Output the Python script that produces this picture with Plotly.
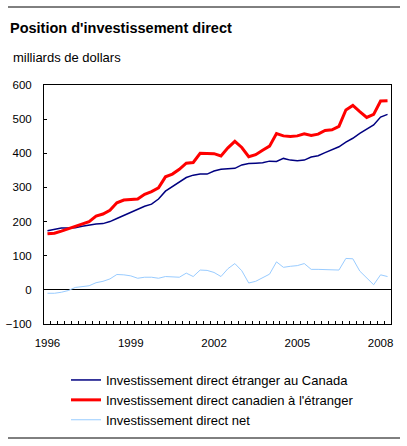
import plotly.graph_objects as go

# Quarterly data, 1996Q1 - 2008Q2 (billions of dollars)
quarters = [f"{y}T{q}" for y in range(1996, 2009) for q in range(1, 5)][:50]
tick_years = ["1996", "1999", "2002", "2005", "2008"]

fdi_in_canada = [173, 178, 181, 181, 182, 186, 190, 193, 194, 200,
                 209, 218, 227, 235, 245, 251, 266, 289, 302, 316,
                 329, 336, 339, 339, 348, 353, 354, 356, 366, 370,
                 371, 372, 377, 376, 385, 380, 378, 380, 389, 393,
                 402, 411, 419, 433, 444, 458, 470, 483, 506, 514]

cdi_abroad = [164, 166, 172, 179, 188, 194, 200, 216, 222, 233,
              255, 263, 265, 266, 280, 288, 299, 331, 339, 353,
              371, 373, 400, 400, 399, 392, 416, 435, 417, 390,
              396, 409, 421, 458, 451, 449, 451, 457, 452, 456,
              467, 469, 479, 527, 540, 522, 505, 514, 553, 554]

net_direct = [-10, -10, -7, -2, 7, 9, 12, 21, 25, 32,
              45, 44, 41, 34, 37, 37, 34, 39, 37, 37,
              49, 39, 58, 57, 51, 39, 62, 77, 56, 20,
              25, 36, 46, 82, 66, 69, 71, 77, 60, 60,
              60, 58, 58, 92, 91, 55, 35, 15, 44, 39]

names = ["Investissement direct étranger au Canada",
         "Investissement direct canadien à l'étranger",
         "Investissement direct net"]

FONT = "Liberation Sans, Arial, sans-serif"
x = list(range(len(quarters)))

fig = go.Figure()
fig.add_trace(go.Scatter(x=x, y=fdi_in_canada, mode="lines", name=names[0],
                         line=dict(color="#000080", width=1.5)))
fig.add_trace(go.Scatter(x=x, y=cdi_abroad, mode="lines", name=names[1],
                         line=dict(color="#FF0000", width=3)))
fig.add_trace(go.Scatter(x=x, y=net_direct, mode="lines", name=names[2],
                         line=dict(color="#99CCFF", width=1)))

fig.update_layout(
    width=407, height=446,
    margin=dict(l=44, r=16, t=85, b=122, autoexpand=False),
    paper_bgcolor="white", plot_bgcolor="white",
    font=dict(family=FONT, size=11, color="black"),
    showlegend=True,
    legend=dict(x=(66 - 44) / 347, xanchor="left",
                y=(324 - 365) / 239, yanchor="top",
                font=dict(size=13, family=FONT, color="black"),
                bgcolor="rgba(0,0,0,0)", borderwidth=0,
                tracegroupgap=0),
    title=dict(text="<b>Position d'investissement direct</b>",
               x=10 / 407, xanchor="left", xref="container",
               y=1 - 23 / 446, yanchor="top", yref="container",
               font=dict(size=14.5, family=FONT, color="black")),
)

fig.add_annotation(text="milliards de dollars", xref="paper", yref="paper",
                   x=(11 - 44) / 347, xanchor="left",
                   y=(324 - 48) / 239, yanchor="top",
                   showarrow=False, font=dict(size=13, family=FONT, color="black"))

fig.update_xaxes(
    range=[-0.5, len(quarters) - 0.5], automargin=False,
    tickmode="array", tickvals=[i for i in x if i % 12 == 0],
    ticktext=tick_years, ticks="",
    showline=True, linecolor="black", linewidth=1, mirror=True,
    showgrid=False, zeroline=False,
    ticklabelstandoff=8,
    tickfont=dict(size=11.5, family=FONT, color="black"),
    minor=dict(tickmode="array", tickvals=[i + 0.5 for i in x[:-1]],
               ticks="inside", ticklen=3, tickcolor="black", tickwidth=1,
               showgrid=False),
)
fig.update_yaxes(
    range=[-100, 600], tickmode="linear", tick0=-100, dtick=100,
    automargin=False,
    ticks="inside", ticklen=3, tickcolor="black",
    showline=True, linecolor="black", linewidth=1, mirror=True,
    showgrid=False, zeroline=True, zerolinecolor="black", zerolinewidth=1,
    ticklabelstandoff=9,
    tickfont=dict(size=11.5, family=FONT, color="black"),
)

# horizontal rules at top and bottom of the figure
fig.add_shape(type="line", xref="paper", yref="paper",
              x0=(8 - 44) / 347, x1=(400 - 44) / 347,
              y0=(324 - 7) / 239, y1=(324 - 7) / 239,
              line=dict(color="black", width=1))
fig.add_shape(type="line", xref="paper", yref="paper",
              x0=(8 - 44) / 347, x1=(400 - 44) / 347,
              y0=(324 - 438) / 239, y1=(324 - 438) / 239,
              line=dict(color="black", width=1))

fig.write_html("out.html", config={"displayModeBar": False},
               post_script="document.body.style.margin='0px';document.body.style.overflow='hidden';")
